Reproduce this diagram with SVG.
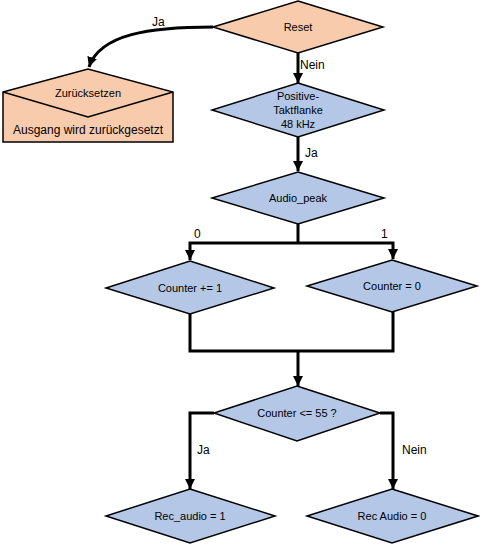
<svg xmlns="http://www.w3.org/2000/svg" width="480" height="545" viewBox="0 0 480 545">
<style>
.or{fill:#F8CBAD;stroke:#000;stroke-width:1.5}
.bl{fill:#B4C7E7;stroke:#000;stroke-width:1.5}
.t{font-family:"Liberation Sans",Arial,sans-serif;font-size:11px;text-anchor:middle;fill:#000}
.lb{font-family:"Liberation Sans",Arial,sans-serif;font-size:12px;fill:#000}
.c{fill:none;stroke:#000;stroke-width:3}
</style>
<defs>
<marker id="ah" markerUnits="userSpaceOnUse" markerWidth="10" markerHeight="10" viewBox="0 0 10 10" refX="10" refY="5" orient="auto">
<path d="M0,0 L10,5 L0,10 Z" fill="#000"/>
</marker>
</defs>
<g id="connectors">
<path class="c" d="M213,27 C150,27 100,34 89,67" marker-end="url(#ah)"/>
<path class="c" d="M298,53 V83" marker-end="url(#ah)"/>
<path class="c" d="M298,137 V171" marker-end="url(#ah)"/>
<path class="c" d="M298,224 V243"/>
<path class="c" d="M298,243 H190 V260" marker-end="url(#ah)"/>
<path class="c" d="M298,243 H393 V259" marker-end="url(#ah)"/>
<path class="c" d="M190,314 V351 H393 V312"/>
<path class="c" d="M298,351 V386" marker-end="url(#ah)"/>
<path class="c" d="M214,413 H190 V489" marker-end="url(#ah)"/>
<path class="c" d="M380,413 H393 V489" marker-end="url(#ah)"/>
<text class="lb" x="152" y="26">Ja</text>
<text class="lb" x="300" y="69">Nein</text>
<text class="lb" x="305" y="157">Ja</text>
<text class="lb" x="194" y="238">0</text>
<text class="lb" x="381" y="238">1</text>
<text class="lb" x="197" y="454">Ja</text>
<text class="lb" x="402" y="454">Nein</text>
</g>
<g id="reset">
<polygon class="or" points="298,1 383,27 298,53 213,27"/>
<text class="t" x="298" y="31">Reset</text>
</g>
<g id="zuruecksetzen">
<path class="or" d="M3,92 L88,69 L173,92 V142 H3 Z"/>
<path fill="none" stroke="#000" stroke-width="1.5" d="M3,92 L88,117 L173,92"/>
<text class="t" x="88" y="97">Zurücksetzen</text>
<text class="t" x="88" y="134" style="font-size:12px">Ausgang wird zurückgesetzt</text>
</g>
<g id="positive">
<polygon class="bl" points="298,83 384,110 298,137 212,110"/>
<text class="t" x="298" y="100">Positive-</text>
<text class="t" x="298" y="114">Taktflanke</text>
<text class="t" x="298" y="128">48 kHz</text>
</g>
<g id="audio_peak">
<polygon class="bl" points="298,172 384,198 298,224 212,198"/>
<text class="t" x="298" y="202">Audio_peak</text>
</g>
<g id="counter_inc">
<polygon class="bl" points="190,261 274,288 190,314 106,288"/>
<text class="t" x="190" y="292">Counter += 1</text>
</g>
<g id="counter_zero">
<polygon class="bl" points="392,260 477,286 392,312 307,286"/>
<text class="t" x="392" y="290">Counter = 0</text>
</g>
<g id="counter_check">
<polygon class="bl" points="297,386 380,413 297,441 214,413"/>
<text class="t" x="297" y="417">Counter &lt;= 55 ?</text>
</g>
<g id="rec_audio_1">
<polygon class="bl" points="190,489 275,516 190,543 106,516"/>
<text class="t" x="190" y="520">Rec_audio = 1</text>
</g>
<g id="rec_audio_0">
<polygon class="bl" points="392,489 478,516 392,543 307,516"/>
<text class="t" x="392" y="520">Rec Audio = 0</text>
</g>
</svg>
